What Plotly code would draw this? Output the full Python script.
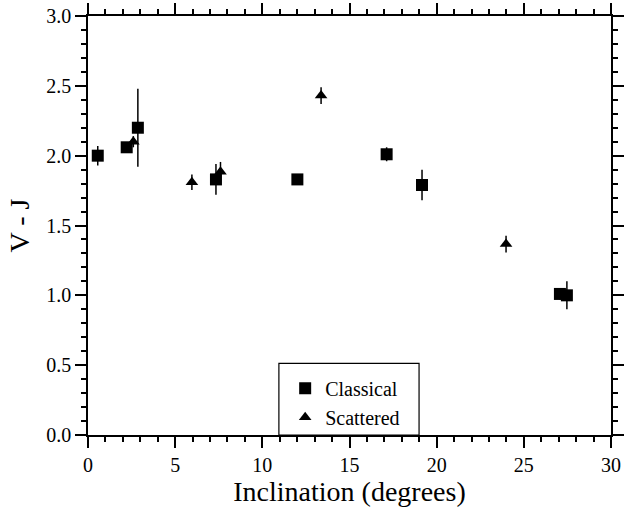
import plotly.graph_objects as go

# Classical objects
classical_x = [0.56, 2.22, 2.86, 7.34, 12.01, 17.13, 19.16, 27.07, 27.47]
classical_y = [2.00, 2.06, 2.20, 1.83, 1.83, 2.01, 1.79, 1.01, 1.00]
classical_err = [0.07, 0.03, 0.28, 0.11, 0.03, 0.05, 0.11, 0.04, 0.10]

# Scattered objects
scattered_x = [2.60, 5.96, 7.60, 13.37, 23.98]
scattered_y = [2.10, 1.81, 1.885, 2.43, 1.367]
scattered_err = [0.04, 0.055, 0.07, 0.06, 0.06]

x_ticks = [0, 5, 10, 15, 20, 25, 30]
y_ticks = [0.0, 0.5, 1.0, 1.5, 2.0, 2.5, 3.0]

FONT = "Liberation Serif"

fig = go.Figure()
fig.add_trace(go.Scatter(
    x=classical_x, y=classical_y, mode="markers", name="Classical",
    marker=dict(symbol="square", size=12, color="black"),
    error_y=dict(type="data", array=classical_err, visible=True,
                 color="black", thickness=1.5, width=0),
))
fig.add_trace(go.Scatter(
    x=scattered_x, y=scattered_y, mode="markers", name="Scattered",
    marker=dict(symbol="triangle-up", size=11, color="black"),
    error_y=dict(type="data", array=scattered_err, visible=True,
                 color="black", thickness=1.5, width=0),
))

axis_common = dict(
    showgrid=False, zeroline=False, showline=True, linecolor="black",
    linewidth=1.5, mirror="ticks", ticks="outside", ticklen=11,
    tickwidth=1.5, tickcolor="black", automargin=False,
    tickfont=dict(family=FONT, size=20, color="black"),
)

fig.update_xaxes(
    range=[0, 30], tickvals=x_ticks, ticktext=[str(v) for v in x_ticks],
    title=dict(text="Inclination (degrees)", font=dict(family=FONT, size=28, color="black"), standoff=2),
    minor=dict(dtick=1, ticks="outside", ticklen=5, tickwidth=1.5, tickcolor="black"),
    **axis_common,
)
fig.update_yaxes(
    range=[0, 3], tickvals=y_ticks, ticktext=[f"{v:.1f}" for v in y_ticks],
    title=dict(text="V - J", font=dict(family=FONT, size=28, color="black"), standoff=8),
    minor=dict(dtick=0.1, ticks="outside", ticklen=5, tickwidth=1.5, tickcolor="black"),
    **axis_common,
)

# legend frame
fig.add_shape(type="rect", xref="paper", yref="paper",
              x0=0.365, x1=0.633, y0=0.0, y1=0.171,
              line=dict(color="black", width=1.2), fillcolor="white", layer="below")

fig.update_layout(
    width=625, height=514,
    margin=dict(l=88, r=14, t=16, b=79),
    paper_bgcolor="white", plot_bgcolor="white",
    font=dict(family=FONT, color="black"),
    showlegend=True,
    legend=dict(x=0.377, y=0.077, xanchor="left", yanchor="middle",
                bgcolor="rgba(0,0,0,0)", borderwidth=0,
                font=dict(family=FONT, size=20, color="black"),
                itemsizing="trace"),
)

fig.write_html("out.html", config={"displayModeBar": False},
               post_script="document.body.style.margin='0';")
